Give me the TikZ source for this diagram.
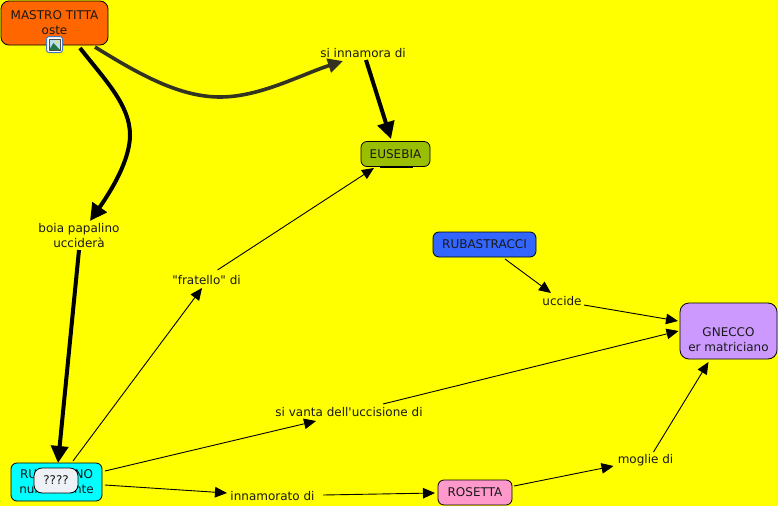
\documentclass[tikz,border=0pt]{standalone}
\usepackage{fontspec}
\newfontfamily\vfont{DejaVu Sans}
\usetikzlibrary{arrows.meta,calc}
\definecolor{bgy}{HTML}{FFFF00}
\definecolor{ctitta}{HTML}{FF6600}
\definecolor{ceus}{HTML}{99BF00}
\definecolor{crub}{HTML}{3366FF}
\definecolor{cgne}{HTML}{CC99FF}
\definecolor{cros}{HTML}{FF99CC}
\definecolor{ccy}{HTML}{00FFFF}
\definecolor{cque}{HTML}{EEF2F6}
\definecolor{cdark}{HTML}{333322}
\definecolor{ifr}{HTML}{4477BB}
\definecolor{isky}{HTML}{BBDDEE}
\definecolor{ihill}{HTML}{227744}
\definecolor{isun}{HTML}{EEDD55}
\tikzset{
 concept/.style={draw=black,line width=.8pt,rounded corners=6pt,inner sep=0pt,align=center,font=\vfont\fontsize{12}{15}\selectfont,text=black!90},
 lab/.style={inner sep=0pt,align=center,font=\vfont\fontsize{12}{15}\selectfont,text=black!90},
 thin link/.style={draw=black,line width=.9pt,-{Triangle[length=12pt,width=10.5pt]}},
 thick link/.style={draw=black,line width=4pt,-{Triangle[length=17pt,width=17pt]}},
}
\begin{document}
\begin{tikzpicture}[x=1pt,y=-1pt]
\path[use as bounding box,fill=bgy] (0,0) rectangle (778,506);
% nodes
\node[concept,fill=ctitta,minimum width=107pt,minimum height=44pt,rounded corners=8pt] (titta) at (54.5,23) {MASTRO TITTA\\oste};
\node[concept,fill=ceus,minimum width=69pt,minimum height=25pt] (eus) at (395.5,154) {EUSEBIA};
\node[concept,fill=crub,minimum width=103pt,minimum height=25pt] (rub) at (484.5,244.5) {RUBASTRACCI};
\node[concept,fill=cgne,minimum width=97pt,minimum height=56pt,rounded corners=9pt] (gne) at (728.5,331) {\strut\\GNECCO\\er matriciano};
\node[concept,fill=ccy,minimum width=91pt,minimum height=38pt] (rug) at (56.5,482) {RUGANTINO\\nullafacente};
\node[concept,fill=cros,minimum width=74pt,minimum height=25pt] (ros) at (475,492.5) {ROSETTA};
\node[lab] (inn) at (363,53) {si innamora di};
\node[lab] (boia) at (79,236) {boia papalino\\ucciderà};
\node[lab] (fra) at (206.5,280) {"fratello" di};
\node[lab] (ucc) at (562,301) {uccide};
\node[lab] (van) at (349,412) {si vanta dell'uccisione di};
\node[lab] (amo) at (272.5,496) {innamorato di};
\node[lab] (mog) at (645.5,460) {moglie di};
\node[draw=black,line width=.8pt,fill=cque,rounded corners=8pt,minimum width=44pt,minimum height=25pt,inner sep=0pt,font=\vfont\fontsize{12}{14}\selectfont,text=black!90] (que) at (56,480.5) {????};
% shadow under Eusebia
\fill[black] ([shift={(-16,0)}]eus.south) rectangle ([shift={(17,1.5)}]eus.south);
% links
\draw[thick link] ([shift={(25.5,25)}]titta.center) .. controls (105,80) and (130,105) .. (130,135) .. controls (130,155) and (118,181) .. ([shift={(11,-15)}]boia.center);
\draw[thick link,line width=3.6pt,draw=cdark,-{Triangle[length=15pt,width=14pt]}] ([shift={(40.5,24)}]titta.center) .. controls (140,75) and (180,97) .. (220,97) .. controls (260,97) and (300,75) .. ([shift={(-20,8)}]inn.center);
\draw[thick link] ([shift={(3,7)}]inn.center) -- ([shift={(-4.5,-15)}]eus.center);
\draw[thick link] ([shift={(0,14)}]boia.center) -- ([shift={(1.5,-19)}]rug.center);
\draw[thin link] ([shift={(16.5,-21)}]rug.center) -- ([shift={(-4.5,8)}]fra.center);
\draw[thin link] ([shift={(11,-10)}]fra.center) -- ([shift={(-21.5,14)}]eus.center);
\draw[thin link] ([shift={(20.5,14.5)}]rub.center) -- ([shift={(-11,-8)}]ucc.center);
\draw[thin link] ([shift={(22,4)}]ucc.center) -- ([shift={(-50.5,-10)}]gne.center);
\draw[thin link] ([shift={(48.5,-11)}]rug.center) -- ([shift={(-33,9)}]van.center);
\draw[thin link] ([shift={(34,-8)}]van.center) -- ([shift={(-50,0)}]gne.center);
\draw[thin link] ([shift={(48.5,3)}]rug.center) -- ([shift={(-45.5,-3)}]amo.center);
\draw[thin link] ([shift={(50.5,-1)}]amo.center) -- ([shift={(-40,0.5)}]ros.center);
\draw[thin link] ([shift={(39,-6.5)}]ros.center) -- ([shift={(-32,6)}]mog.center);
\draw[thin link] ([shift={(8,-8)}]mog.center) -- ([shift={(-20,31)}]gne.center);
% icon
\node[draw=ifr,line width=1pt,fill=white,rounded corners=2.5pt,minimum size=16pt,inner sep=0pt] (icon) at (54.5,44.5) {};
\fill[isky] ([shift={(-5.5,-5.5)}]icon.center) rectangle ([shift={(5.5,5.5)}]icon.center);
\fill[ihill] ([shift={(-5.5,5.5)}]icon.center) -- ([shift={(-1,-1.5)}]icon.center) -- ([shift={(5.5,5.5)}]icon.center) -- cycle;
\fill[isun] ([shift={(2.5,-2.5)}]icon.center) circle (1.6pt);
\draw[black!70,line width=.5pt] ([shift={(-5.5,-5.5)}]icon.center) rectangle ([shift={(5.5,5.5)}]icon.center);
\end{tikzpicture}
\end{document}
